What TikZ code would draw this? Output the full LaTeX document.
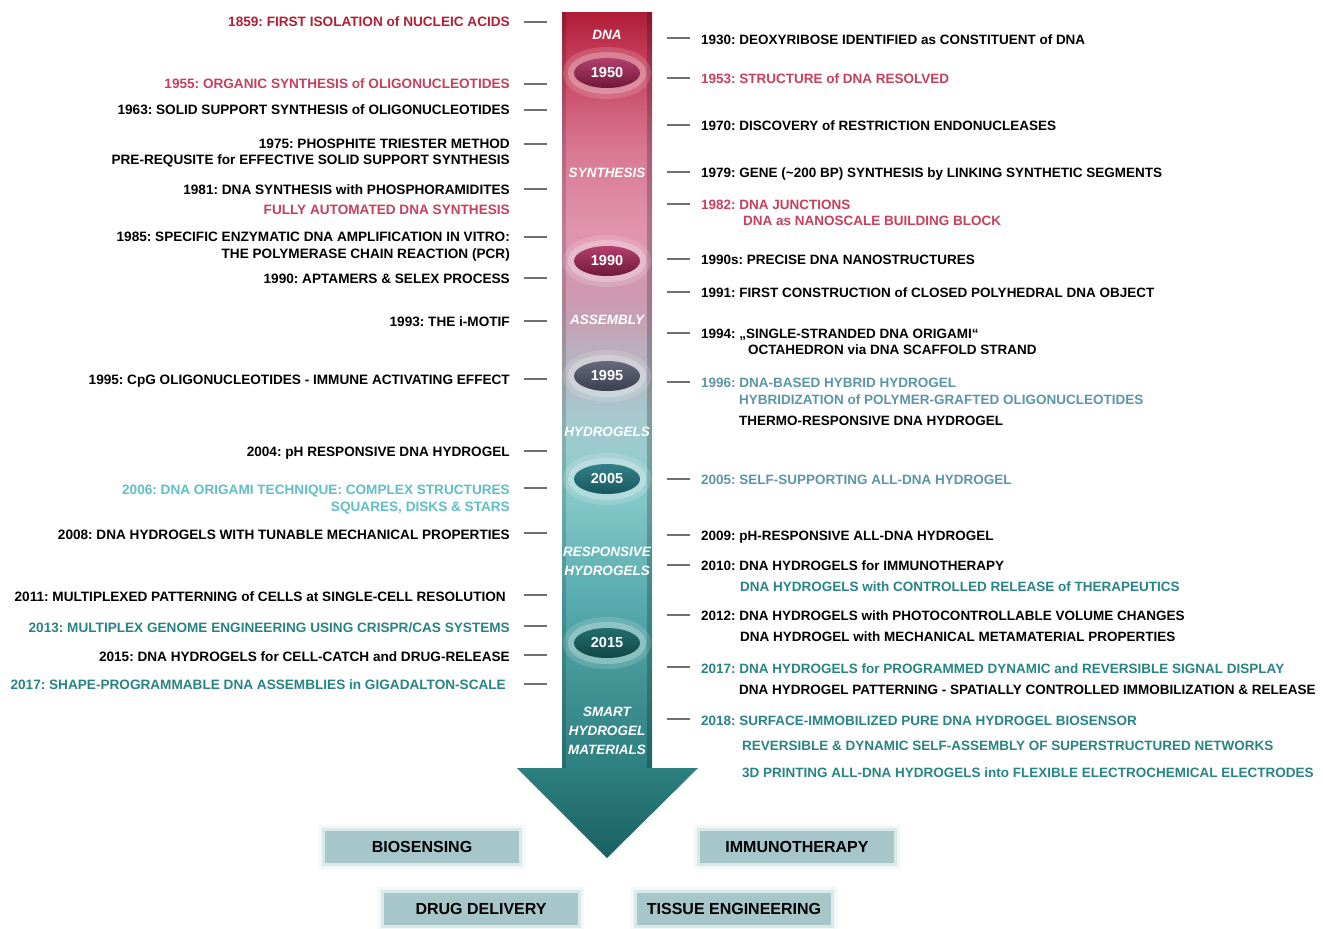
\documentclass[tikz,border=0pt]{standalone}
\usepackage{fontspec}
\setmainfont{Liberation Sans}
\usetikzlibrary{shapes.geometric}
\frenchspacing

\definecolor{dnared}{RGB}{178,30,52}
\definecolor{dnarose}{RGB}{198,64,94}
\definecolor{gelteal}{RGB}{40,132,132}
\definecolor{gelsky}{RGB}{96,190,198}
\definecolor{gelslate}{RGB}{90,150,164}
\definecolor{tickgray}{RGB}{112,112,112}
\definecolor{appfill}{RGB}{166,198,202}

\pgfdeclareverticalshading{timeshade}{100bp}{rgb(0bp)=(0.10,0.38,0.38); rgb(25bp)=(0.10,0.38,0.38);
  rgb(30.3bp)=(0.18,0.50,0.50); rgb(34.3bp)=(0.24,0.56,0.56); rgb(40.2bp)=(0.34,0.67,0.68);
  rgb(47.3bp)=(0.55,0.80,0.80); rgb(50.9bp)=(0.65,0.79,0.81); rgb(54.4bp)=(0.72,0.70,0.75);
  rgb(58bp)=(0.80,0.60,0.69); rgb(62.1bp)=(0.88,0.58,0.68); rgb(66.8bp)=(0.85,0.47,0.58);
  rgb(72.75bp)=(0.76,0.22,0.33); rgb(75bp)=(0.69,0.11,0.21); rgb(100bp)=(0.69,0.11,0.21)}

\begin{document}
\begin{tikzpicture}[x=1pt, y=-1pt,
   lefttxt/.style={anchor=east, inner sep=0pt, text height=9.8pt, text depth=0pt,
      font=\bfseries\fontsize{13.6}{16}\selectfont},
   righttxt/.style={lefttxt, anchor=west, font=\bfseries\fontsize{13.5}{16}\selectfont},
   tick/.style={draw=tickgray, line width=1.3pt},
   era/.style={text=white, align=center, font=\bfseries\itshape\fontsize{13.5}{19}\selectfont},
   yearpill/.style={ellipse, minimum width=66pt, minimum height=30pt, inner sep=0pt,
      text=white, font=\bfseries\fontsize{14.5}{14}\selectfont,
      preaction={draw=white, draw opacity=0.15, line width=22pt},
      preaction={draw=white, draw opacity=0.25, line width=12pt}},
   apparea/.style={fill=appfill, minimum width=194pt, minimum height=32pt, inner sep=0pt,
      font=\bfseries\fontsize{16}{16}\selectfont,
      preaction={draw=appfill, draw opacity=0.15, line width=12pt},
      preaction={draw=appfill, draw opacity=0.3, line width=6pt}}]
\useasboundingbox (0,0) rectangle (1323,929);

% timeline arrow
\path[shading=timeshade] (562,12) -- (652,12) -- (652,768) -- (698,768) -- (607,858)
   -- (517,768) -- (562,768) -- cycle;
\fill[black, opacity=0.15] (562,12) rectangle (566,768);
\fill[black, opacity=0.22] (647,12) rectangle (652,768);

% year marks
\node[yearpill, top color={rgb,255:red,178;green,64;blue,110}, bottom color={rgb,255:red,112;green,24;blue,56}] (y1950) at (607,73) {1950};
\node[yearpill, top color={rgb,255:red,178;green,64;blue,110}, bottom color={rgb,255:red,112;green,24;blue,56}] (y1990) at (607,261) {1990};
\node[yearpill, top color={rgb,255:red,100;green,106;blue,122}, bottom color={rgb,255:red,58;green,64;blue,80}] (y1995) at (607,376) {1995};
\node[yearpill, top color={rgb,255:red,52;green,128;blue,136}, bottom color={rgb,255:red,24;green,88;blue,96}] (y2005) at (607,479) {2005};
\node[yearpill, top color={rgb,255:red,36;green,110;blue,110}, bottom color={rgb,255:red,16;green,70;blue,70}] (y2015) at (607,643) {2015};

% eras
\node[era] (dna) at (607,35) {DNA};
\node[era] (synth) at (607,173) {SYNTHESIS};
\node[era] (assem) at (607,320) {ASSEMBLY};
\node[era] (hydro) at (607,432) {HYDROGELS};
\node[era] (respo) at (607,561) {RESPONSIVE\\HYDROGELS};
\node[era] (smart) at (607,731) {SMART\\HYDROGEL\\MATERIALS};

% left side
\node[lefttxt, text=dnared] (l1859) at (510,22) {1859: FIRST ISOLATION of NUCLEIC ACIDS};
\node[lefttxt, text=dnarose] (l1955) at (510,84) {1955: ORGANIC SYNTHESIS of OLIGONUCLEOTIDES};
\node[lefttxt] (l1963) at (510,110) {1963: SOLID SUPPORT SYNTHESIS of OLIGONUCLEOTIDES};
\node[lefttxt] (l1975) at (510,144) {1975: PHOSPHITE TRIESTER METHOD};
\node[lefttxt] (l1975b) at (510,160) {PRE-REQUSITE for EFFECTIVE SOLID SUPPORT SYNTHESIS};
\node[lefttxt] (l1981) at (510,190) {1981: DNA SYNTHESIS with PHOSPHORAMIDITES};
\node[lefttxt, text=dnarose] (l1981b) at (510,210) {FULLY AUTOMATED DNA SYNTHESIS};
\node[lefttxt] (l1985) at (510,237) {1985: SPECIFIC ENZYMATIC DNA AMPLIFICATION IN VITRO:};
\node[lefttxt] (l1985b) at (510,254) {THE POLYMERASE CHAIN REACTION (PCR)};
\node[lefttxt] (l1990) at (510,279) {1990: APTAMERS \& SELEX PROCESS};
\node[lefttxt] (l1993) at (510,322) {1993: THE i-MOTIF};
\node[lefttxt] (l1995) at (510,380) {1995: CpG OLIGONUCLEOTIDES - IMMUNE ACTIVATING EFFECT};
\node[lefttxt] (l2004) at (510,452) {2004: pH RESPONSIVE DNA HYDROGEL};
\node[lefttxt, text=gelsky] (l2006) at (510,490) {2006: DNA ORIGAMI TECHNIQUE: COMPLEX STRUCTURES};
\node[lefttxt, text=gelsky] (l2006b) at (510,507) {SQUARES, DISKS \& STARS};
\node[lefttxt] (l2008) at (510,535) {2008: DNA HYDROGELS WITH TUNABLE MECHANICAL PROPERTIES};
\node[lefttxt] (l2011) at (506,597) {2011: MULTIPLEXED PATTERNING of CELLS at SINGLE-CELL RESOLUTION};
\node[lefttxt, text=gelteal] (l2013) at (510,628) {2013: MULTIPLEX GENOME ENGINEERING USING CRISPR/CAS SYSTEMS};
\node[lefttxt] (l2015) at (510,657) {2015: DNA HYDROGELS for CELL-CATCH and DRUG-RELEASE};
\node[lefttxt, text=gelteal] (l2017) at (506,685) {2017: SHAPE-PROGRAMMABLE DNA ASSEMBLIES in GIGADALTON-SCALE};

% right side
\node[righttxt] (r1930) at (701,40) {1930: DEOXYRIBOSE IDENTIFIED as CONSTITUENT of DNA};
\node[righttxt, text=dnarose] (r1953) at (701,79) {1953: STRUCTURE of DNA RESOLVED};
\node[righttxt] (r1970) at (701,126) {1970: DISCOVERY of RESTRICTION ENDONUCLEASES};
\node[righttxt] (r1979) at (701,173) {1979: GENE (\textasciitilde200 BP) SYNTHESIS by LINKING SYNTHETIC SEGMENTS};
\node[righttxt, text=dnarose] (r1982) at (701,205) {1982: DNA JUNCTIONS};
\node[righttxt, text=dnarose] (r1982b) at (743,221) {DNA as NANOSCALE BUILDING BLOCK};
\node[righttxt] (r1990) at (701,260) {1990s: PRECISE DNA NANOSTRUCTURES};
\node[righttxt] (r1991) at (701,293) {1991: FIRST CONSTRUCTION of CLOSED POLYHEDRAL DNA OBJECT};
\node[righttxt] (r1994) at (701,334) {1994: „SINGLE-STRANDED DNA ORIGAMI“};
\node[righttxt] (r1994b) at (748,350) {OCTAHEDRON via DNA SCAFFOLD STRAND};
\node[righttxt, text=gelslate] (r1996) at (701,383) {1996: DNA-BASED HYBRID HYDROGEL};
\node[righttxt, text=gelslate] (r1996b) at (739,400) {HYBRIDIZATION of POLYMER-GRAFTED OLIGONUCLEOTIDES};
\node[righttxt] (r1996c) at (739,421) {THERMO-RESPONSIVE DNA HYDROGEL};
\node[righttxt, text=gelslate] (r2005) at (701,480) {2005: SELF-SUPPORTING ALL-DNA HYDROGEL};
\node[righttxt] (r2009) at (701,536) {2009: pH-RESPONSIVE ALL-DNA HYDROGEL};
\node[righttxt] (r2010) at (701,566) {2010: DNA HYDROGELS for IMMUNOTHERAPY};
\node[righttxt, text=gelteal] (r2010b) at (740,587) {DNA HYDROGELS with CONTROLLED RELEASE of THERAPEUTICS};
\node[righttxt] (r2012) at (701,616) {2012: DNA HYDROGELS with PHOTOCONTROLLABLE VOLUME CHANGES};
\node[righttxt] (r2012b) at (740,637) {DNA HYDROGEL with MECHANICAL METAMATERIAL PROPERTIES};
\node[righttxt, text=gelteal] (r2017) at (701,669) {2017: DNA HYDROGELS for PROGRAMMED DYNAMIC and REVERSIBLE SIGNAL DISPLAY};
\node[righttxt] (r2017b) at (739,690) {DNA HYDROGEL PATTERNING - SPATIALLY CONTROLLED IMMOBILIZATION \& RELEASE};
\node[righttxt, text=gelteal] (r2018) at (701,721) {2018: SURFACE-IMMOBILIZED PURE DNA HYDROGEL BIOSENSOR};
\node[righttxt, text=gelteal] (r2018b) at (742,746) {REVERSIBLE \& DYNAMIC SELF-ASSEMBLY OF SUPERSTRUCTURED NETWORKS};
\node[righttxt, text=gelteal] (r2018c) at (742,773) {3D PRINTING ALL-DNA HYDROGELS into FLEXIBLE ELECTROCHEMICAL ELECTRODES};

% ticks
\draw[tick] (524,22) -- (547,22);   \draw[tick] (524,84) -- (547,84);
\draw[tick] (524,110) -- (547,110); \draw[tick] (524,144) -- (547,144);
\draw[tick] (524,189) -- (547,189); \draw[tick] (524,237) -- (547,237);
\draw[tick] (524,278) -- (547,278); \draw[tick] (524,321) -- (547,321);
\draw[tick] (524,379) -- (547,379); \draw[tick] (524,451) -- (547,451);
\draw[tick] (524,488) -- (547,488); \draw[tick] (524,533) -- (547,533);
\draw[tick] (524,595) -- (547,595); \draw[tick] (524,626) -- (547,626);
\draw[tick] (524,655) -- (547,655); \draw[tick] (524,684) -- (547,684);
\draw[tick] (667,38) -- (690,38);   \draw[tick] (667,78) -- (690,78);
\draw[tick] (667,125) -- (690,125); \draw[tick] (667,172) -- (690,172);
\draw[tick] (667,204) -- (690,204); \draw[tick] (667,259) -- (690,259);
\draw[tick] (667,292) -- (690,292); \draw[tick] (667,333) -- (690,333);
\draw[tick] (667,382) -- (690,382); \draw[tick] (667,479) -- (690,479);
\draw[tick] (667,535) -- (690,535); \draw[tick] (667,565) -- (690,565);
\draw[tick] (667,615) -- (690,615); \draw[tick] (667,667) -- (690,667);
\draw[tick] (667,719) -- (690,719);

% applications
\node[apparea] (bios) at (422,847) {BIOSENSING};
\node[apparea] (immu) at (797,847) {IMMUNOTHERAPY};
\node[apparea] (drug) at (481,909) {DRUG DELIVERY};
\node[apparea] (tiss) at (734,909) {TISSUE ENGINEERING};

\end{tikzpicture}
\end{document}
